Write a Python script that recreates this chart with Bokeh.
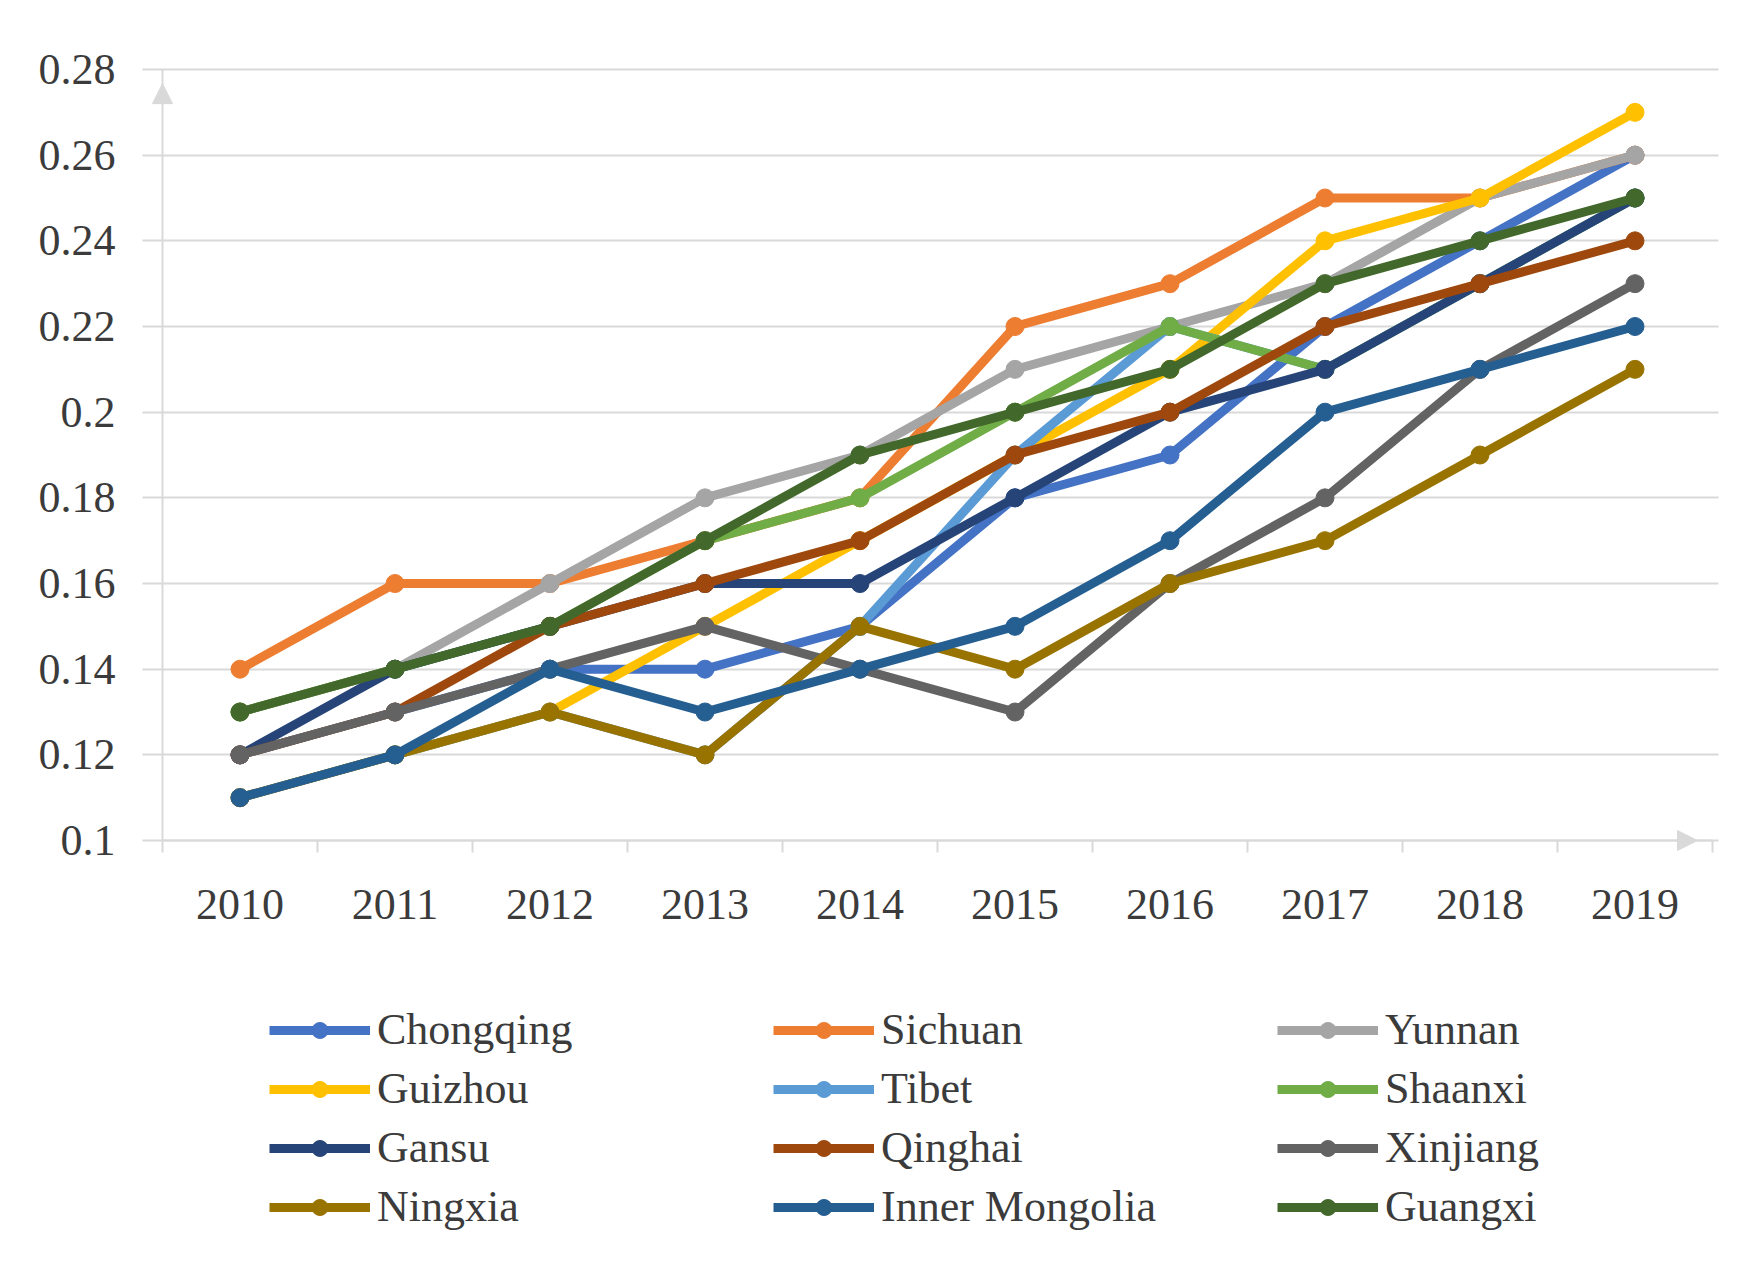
from bokeh.plotting import figure
from bokeh.models import (Range1d, FixedTicker, CustomJSTickFormatter, Legend, LegendItem,
                          Arrow, NormalHead)
from bokeh.embed import file_html
from bokeh.resources import INLINE

# ---------------- data ----------------
years = ["2010", "2011", "2012", "2013", "2014", "2015", "2016", "2017", "2018", "2019"]
y_ticks = [0.1, 0.12, 0.14, 0.16, 0.18, 0.2, 0.22, 0.24, 0.26, 0.28]

chongqing      = [0.12, 0.13, 0.14, 0.14, 0.15, 0.18, 0.19, 0.22, 0.24, 0.26]
sichuan        = [0.14, 0.16, 0.16, 0.17, 0.18, 0.22, 0.23, 0.25, 0.25, 0.26]
yunnan         = [0.13, 0.14, 0.16, 0.18, 0.19, 0.21, 0.22, 0.23, 0.25, 0.26]
guizhou        = [0.11, 0.12, 0.13, 0.15, 0.17, 0.19, 0.21, 0.24, 0.25, 0.27]
tibet          = [0.11, 0.12, 0.13, 0.12, 0.15, 0.19, 0.22, 0.21, 0.23, 0.25]
shaanxi        = [0.13, 0.14, 0.15, 0.17, 0.18, 0.20, 0.22, 0.21, 0.23, 0.25]
gansu          = [0.12, 0.14, 0.15, 0.16, 0.16, 0.18, 0.20, 0.21, 0.23, 0.25]
qinghai        = [0.12, 0.13, 0.15, 0.16, 0.17, 0.19, 0.20, 0.22, 0.23, 0.24]
xinjiang       = [0.12, 0.13, 0.14, 0.15, 0.14, 0.13, 0.16, 0.18, 0.21, 0.23]
ningxia        = [0.11, 0.12, 0.13, 0.12, 0.15, 0.14, 0.16, 0.17, 0.19, 0.21]
inner_mongolia = [0.11, 0.12, 0.14, 0.13, 0.14, 0.15, 0.17, 0.20, 0.21, 0.22]
guangxi        = [0.13, 0.14, 0.15, 0.17, 0.19, 0.20, 0.21, 0.23, 0.24, 0.25]

series_names = ["Chongqing", "Sichuan", "Yunnan", "Guizhou", "Tibet", "Shaanxi",
                "Gansu", "Qinghai", "Xinjiang", "Ningxia", "Inner Mongolia", "Guangxi"]
series_values = [chongqing, sichuan, yunnan, guizhou, tibet, shaanxi,
                 gansu, qinghai, xinjiang, ningxia, inner_mongolia, guangxi]
series_colors = ["#4472C4", "#ED7D31", "#A5A5A5", "#FFC000", "#5B9BD5", "#70AD47",
                 "#264478", "#9E480E", "#636363", "#997300", "#255E91", "#43682B"]

# category slots: each year occupies one unit, centred in its slot
n = len(years)
x_centers = [i + 0.5 for i in range(n)]
x_bounds = list(range(n + 1))

# ---------------- style / layout ----------------
FONT = "Liberation Serif"
FSIZE = "44px"
TEXT = "#3b3b3b"
GRID = "#d9d9d9"

W, H = 1746, 1245
PX_PER_X = 155.0                 # pixels per category slot
PX_PER_Y = 85.67 / 0.02          # pixels per value unit
AX_LEFT_PX = 162                 # where the value axis sits (from figure left)
TOP_PX = 69                      # where 0.28 sits (from figure top)

x_lo = -AX_LEFT_PX / PX_PER_X
x_hi = x_lo + W / PX_PER_X
y_hi = y_ticks[-1] + TOP_PX / PX_PER_Y
y_lo = y_hi - H / PX_PER_Y

p = figure(width=W, height=H,
           x_range=Range1d(x_lo, x_hi), y_range=Range1d(y_lo, y_hi),
           output_backend="svg", toolbar_location=None, min_border=0)
p.outline_line_color = None
p.background_fill_color = "white"
p.border_fill_color = "white"
p.xgrid.visible = False
p.ygrid.visible = False

# value axis: its long inward ticks serve as the horizontal gridlines
ya = p.yaxis[0]
ya.level = "underlay"
ya.ticker = FixedTicker(ticks=y_ticks)
ya.fixed_location = 0
ya.bounds = (y_ticks[0], y_ticks[-1])
ya.formatter = CustomJSTickFormatter(code="return String(Math.round(tick*100)/100)")
ya.axis_line_color = GRID
ya.axis_line_width = 2
ya.major_tick_line_color = GRID
ya.major_tick_line_width = 2
ya.major_tick_out = 20
ya.major_tick_in = int(n * PX_PER_X + 6)
ya.minor_tick_line_color = None
ya.major_label_standoff = 27
ya.major_label_text_font = FONT
ya.major_label_text_font_size = FSIZE
ya.major_label_text_color = TEXT

xa = p.xaxis[0]
xa.level = "underlay"
xa.ticker = FixedTicker(ticks=x_centers, minor_ticks=x_bounds)
xa.fixed_location = y_ticks[0]
xa.bounds = (0, n)
xa.formatter = CustomJSTickFormatter(args=dict(labels=years),
                                     code="return labels[Math.floor(tick)]")
xa.axis_line_color = GRID
xa.axis_line_width = 2
xa.major_tick_line_color = None
xa.minor_tick_line_color = GRID
xa.minor_tick_line_width = 2
xa.minor_tick_out = 12
xa.minor_tick_in = 0
xa.major_tick_out = 12
xa.major_tick_in = 0
xa.major_label_standoff = 37
xa.major_label_text_font = FONT
xa.major_label_text_font_size = FSIZE
xa.major_label_text_color = TEXT

# axis end arrows
p.add_layout(Arrow(x_start=0, x_end=0, y_start=y_ticks[-1] - 0.01, y_end=y_ticks[-1] - 0.0033,
                   line_color=None, end=NormalHead(size=20, fill_color=GRID, line_color=GRID)))
p.add_layout(Arrow(x_start=n - 0.3, x_end=n - 0.097, y_start=y_ticks[0], y_end=y_ticks[0],
                   line_color=None, end=NormalHead(size=20, fill_color=GRID, line_color=GRID)))

LW, MS = 9, 18
items = []
for name, vals, col in zip(series_names, series_values, series_colors):
    src = dict(x=x_centers, y=vals)
    r1 = p.line(x="x", y="y", source=src, line_color=col, line_width=LW, line_join="round")
    r2 = p.scatter(x="x", y="y", source=src, size=MS, fill_color=col, line_color=col)
    items.append(LegendItem(label=name, renderers=[r1, r2]))

col_x = [269, 773, 1277]
for c in range(3):
    leg = Legend(items=[items[r * 3 + c] for r in range(4)],
                 location=(col_x[c], 13), orientation="vertical",
                 label_text_font=FONT, label_text_font_size=FSIZE, label_text_color=TEXT,
                 glyph_width=101, glyph_height=40, label_height=50, label_standoff=7,
                 spacing=8, padding=0, margin=0, border_line_color=None,
                 background_fill_alpha=0)
    p.add_layout(leg, "center")

open("out.html", "w").write(file_html(p, INLINE))
